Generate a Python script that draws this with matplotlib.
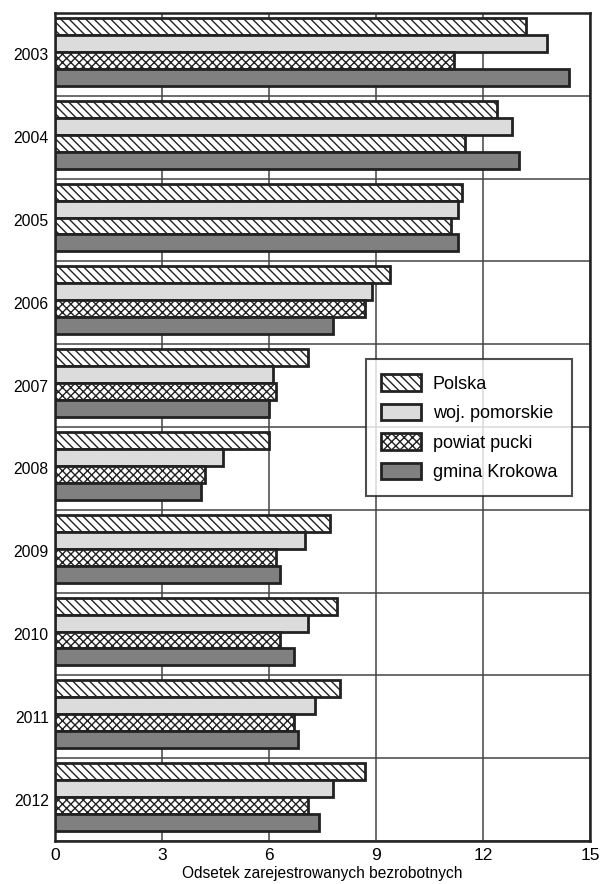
import numpy as np
import matplotlib.pyplot as plt
from matplotlib.ticker import MultipleLocator

plt.rcParams['font.family'] = ['Liberation Sans', 'DejaVu Sans']
plt.rcParams['hatch.linewidth'] = 1.0

years = ['2003', '2004', '2005', '2006', '2007', '2008', '2009', '2010', '2011', '2012']
series = ['Polska', 'woj. pomorskie', 'powiat pucki', 'gmina Krokowa']
polska = [13.2, 12.4, 11.4, 9.4, 7.1, 6.0, 7.7, 7.9, 8.0, 8.7]
pomorskie = [13.8, 12.8, 11.3, 8.9, 6.1, 4.7, 7.0, 7.1, 7.3, 7.8]
pucki = [11.2, 11.5, 11.1, 8.7, 6.2, 4.2, 6.2, 6.3, 6.7, 7.1]
krokowa = [14.4, 13.0, 11.3, 7.8, 6.0, 4.1, 6.3, 6.7, 6.8, 7.4]

values = [polska, pomorskie, pucki, krokowa]
colors = ['white', '#dcdcdc', 'white', '#808080']
hatches = ['\\\\\\\\', None, 'xxxx', None]
# in the source the powiat pucki bars for 2004 and 2005 are drawn with the Polska hatch
pucki_odd_hatch = ['2004', '2005']

fig = plt.figure(figsize=(6.01, 8.84), dpi=100)
ax = fig.add_axes([55 / 601, 43 / 884, 535 / 601, 828 / 884])

y = np.arange(len(years))
h = 0.205
shift = -0.03
for k, (vals, col, hat, name) in enumerate(zip(values, colors, hatches, series)):
    bars = ax.barh(y + shift + (k - 1.5) * h, vals, height=h, color=col, hatch=hat,
                   edgecolor='#222222', linewidth=2.0, label=name, zorder=3)
    if name == 'powiat pucki':
        for yr, b in zip(years, bars):
            if yr in pucki_odd_hatch:
                b.set_hatch('\\\\\\\\')

ax.set_xlim(0, 15)
ax.set_ylim(len(years) - 0.5, -0.5)
ax.xaxis.set_major_locator(MultipleLocator(3))
ax.set_yticks(y)
ax.set_yticklabels(years)
ax.set_yticks(np.arange(len(years) + 1) - 0.5, minor=True)
ax.grid(axis='x', which='major', color='#444444', linewidth=1.1, zorder=0)
ax.grid(axis='y', which='minor', color='#444444', linewidth=1.1, zorder=0)
ax.tick_params(axis='y', which='both', length=0, labelsize=11.3, pad=4.5)
ax.tick_params(axis='x', length=0, labelsize=12.5, pad=5)
for s in ax.spines.values():
    s.set_linewidth(1.8)
    s.set_color('#222222')

ax.set_xlabel('Odsetek zarejestrowanych bezrobotnych', fontsize=11.2, labelpad=2)

leg = ax.legend(loc='upper left', bbox_to_anchor=(0.581, 0.582), fontsize=13,
                frameon=True, fancybox=False, edgecolor='#222222',
                handlelength=2.2, handleheight=1.0, labelspacing=0.62,
                borderpad=0.85, handletextpad=0.65, borderaxespad=0)
leg.get_frame().set_linewidth(1.5)
leg.set_zorder(5)

fig.savefig('out.png', dpi=100)
